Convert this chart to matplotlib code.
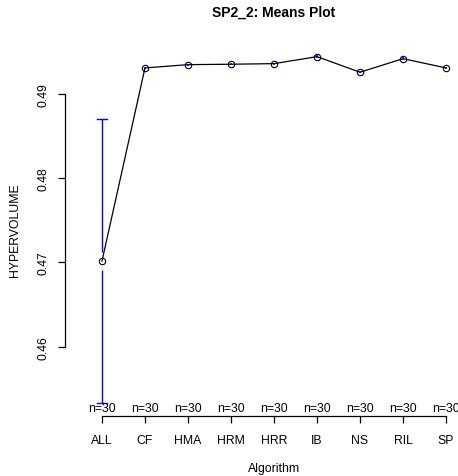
import numpy as np
import matplotlib.pyplot as plt

plt.rcParams['font.family'] = ['Liberation Sans', 'DejaVu Sans']

# mean hypervolume per algorithm with 95% confidence half-widths
algorithms = ["ALL", "CF", "HMA", "HRM", "HRR", "IB", "NS", "RIL", "SP"]
means = [0.47016, 0.49309, 0.49348, 0.49353, 0.49360, 0.49443, 0.49258, 0.49419, 0.49309]
ci_half = [0.01688, 0.00015, 0.00012, 0.00012, 0.00012, 0.00015, 0.00015, 0.00015, 0.00015]
n_obs = [30, 30, 30, 30, 30, 30, 30, 30, 30]
y_ticks = [0.46, 0.47, 0.48, 0.49]

W, H = 458, 477
fig = plt.figure(figsize=(W / 100, H / 100), dpi=100)
# plot region in pixels: left 65, right 483 (runs past the canvas), top 44, bottom 417
ax = fig.add_axes([65 / W, (H - 417) / H, 418 / W, (417 - 44) / H])

x = np.arange(1, len(algorithms) + 1)
ax.set_xlim(0.14, 9.86)
ax.set_ylim(0.45177, 0.49605)

# confidence bars, leaving a gap around each point like plotCI
gap = 0.00107
for xi, m, h in zip(x, means, ci_half):
    if h > gap:
        ax.plot([xi, xi], [m + gap, m + h], color='blue', lw=1.0, solid_capstyle='butt')
        ax.plot([xi, xi], [m - gap, m - h], color='blue', lw=1.0, solid_capstyle='butt')
        cap = 0.12
        ax.plot([xi - cap, xi + cap], [m + h, m + h], color='blue', lw=1.0)
        ax.plot([xi - cap, xi + cap], [m - h, m - h], color='blue', lw=1.0)
    else:
        ax.plot([xi, xi], [m - h, m + h], color='blue', lw=1.2, solid_capstyle='butt', zorder=4)

ax.plot(x, means, color='black', lw=0.9, marker='o', markersize=4.6,
        markerfacecolor='none', markeredgecolor='black', markeredgewidth=0.8, zorder=3)

# sample size labels along the bottom of the plot region
for xi, n in zip(x, n_obs):
    ax.annotate(f"n={n}", xy=(xi, 0.45177), xytext=(0, 1.5), textcoords='offset points',
                ha='center', va='bottom', fontsize=8.8)

for side in ['top', 'right']:
    ax.spines[side].set_visible(False)
ax.spines['left'].set_bounds(0.46, 0.49)
ax.spines['bottom'].set_bounds(1, 9)
ax.spines['left'].set_linewidth(0.9)
ax.spines['bottom'].set_linewidth(0.9)

ax.set_xticks(x)
ax.set_xticklabels(algorithms, fontsize=8.8)
ax.set_yticks(y_ticks)
ax.set_yticklabels([f"{t:.2f}" for t in y_ticks], fontsize=8.8, rotation=90, va='center')
ax.tick_params(axis='both', direction='out', length=5, width=0.9)
ax.tick_params(axis='x', pad=8)
ax.tick_params(axis='y', pad=6)

fig.text(274 / W, 1 - 13 / H, "SP2_2: Means Plot", ha='center', va='center',
         fontsize=10, fontweight='bold')
fig.text(274 / W, 1 - 469 / H, "Algorithm", ha='center', va='center', fontsize=8.8)
fig.text(15 / W, 1 - 230 / H, "HYPERVOLUME", ha='center', va='center', fontsize=8.8, rotation=90)

fig.savefig("out.png", dpi=100)
